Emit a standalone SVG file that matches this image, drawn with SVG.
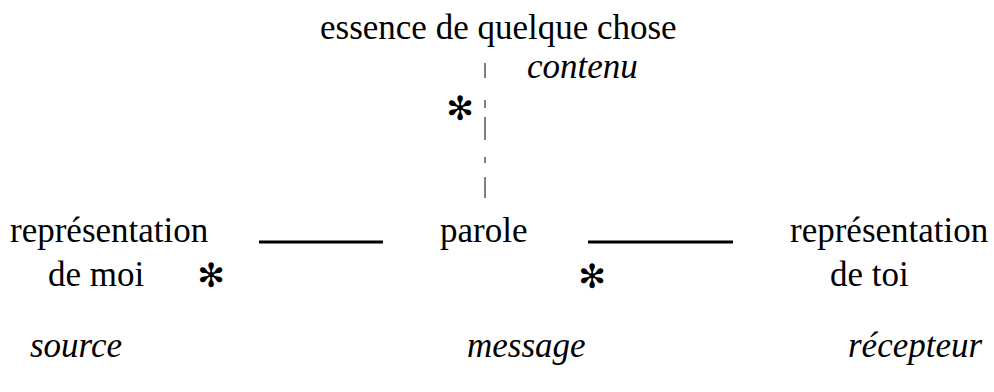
<svg xmlns="http://www.w3.org/2000/svg" width="994" height="392" viewBox="0 0 994 392">
<style>
text{font-family:"Liberation Serif","Times New Roman",serif;font-size:35px;fill:#000}
.i{font-style:italic}
.ast{font-family:"DejaVu Sans",sans-serif;font-size:33px;text-anchor:middle}
.rule{stroke:#000;stroke-width:3}
.dash{stroke:#000;stroke-width:1}
</style>
<rect width="994" height="392" fill="#fff"/>
<g id="connectors">
<line class="rule" x1="259" y1="242" x2="383" y2="242"/>
<line class="rule" x1="588" y1="242" x2="733" y2="242"/>
<line class="dash" x1="485" y1="63" x2="485" y2="78"/>
<line class="dash" x1="485" y1="100" x2="485" y2="108"/>
<line class="dash" x1="485" y1="117" x2="485" y2="140"/>
<line class="dash" x1="485" y1="157" x2="485" y2="163"/>
<line class="dash" x1="485" y1="177" x2="485" y2="198"/>
</g>
<g id="essence"><text x="320" y="39">essence de quelque chose</text></g>
<g id="contenu"><text class="i" x="527" y="78">contenu</text></g>
<g id="ast-top"><text class="ast" x="460" y="120">✻</text></g>
<g id="moi"><text x="10" y="242">représentation</text><text x="48" y="286">de moi</text><text class="ast" x="211" y="287">✻</text></g>
<g id="parole"><text x="440" y="242">parole</text></g>
<g id="toi"><text x="790" y="242">représentation</text><text x="830" y="286">de toi</text><text class="ast" x="592" y="288">✻</text></g>
<g id="source"><text class="i" x="30" y="357">source</text></g>
<g id="message"><text class="i" x="467" y="357">message</text></g>
<g id="recepteur"><text class="i" x="848" y="357">récepteur</text></g>
</svg>
